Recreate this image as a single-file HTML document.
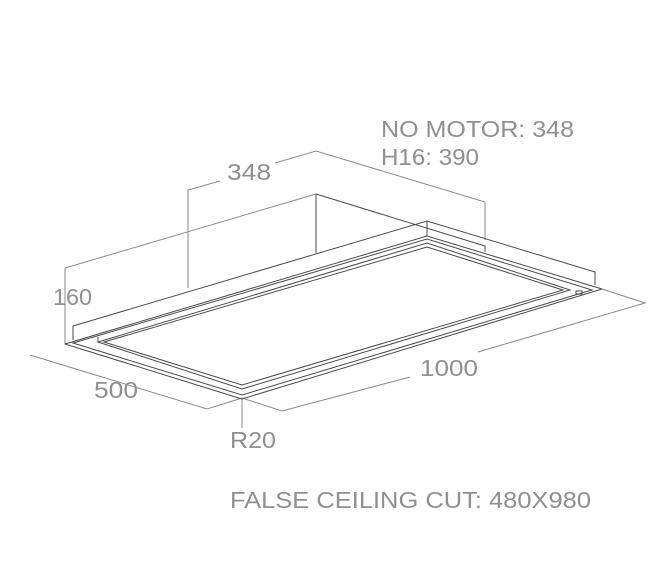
<!DOCTYPE html>
<html><head><meta charset="utf-8"><style>
html,body{margin:0;padding:0;background:#fff;}
svg{display:block;}
text{font-family:"Liberation Sans",sans-serif;fill:#909090;font-size:23px;}
</style></head><body>
<svg width="655" height="574" viewBox="0 0 655 574" xmlns="http://www.w3.org/2000/svg">
<g fill="none" stroke="#8a8a8a" stroke-width="1">
  <polyline points="188,288 188,190 220,181"/>
  <polyline points="275,163 316,151 485,202 485,240"/>
  <polyline points="316,194 65,268 65,344"/>
  <polyline points="30,355 207,409 242,398"/>
  <polyline points="242,398 282,411 410,377"/>
  <polyline points="478,352 645,303 602,289"/>
  <line x1="242" y1="399" x2="242" y2="428"/>
</g>
<g fill="none" stroke="#4a4a4a" stroke-width="1">
  <line x1="316" y1="194" x2="316" y2="253"/>
  <polyline points="316,194 485,246 485,252"/>
  <polyline points="73,340 73,326 427,221 595,272 595,285"/>
  <line x1="427" y1="221" x2="427" y2="236"/>
  <polygon points="65,344 242,399 602,289 427,236" stroke-linejoin="round"/>
  <polygon points="73,343 242,395 592,290 427,239"/>
  <polygon points="98,342 242,389 570,290 427,243"/>
  <polygon points="104,342 242,385 563,290 427,247"/>
  <line x1="98" y1="337" x2="98" y2="342"/>
  <rect x="576" y="291" width="6" height="3"/>
</g>
<text x="381" y="137" textLength="193" lengthAdjust="spacingAndGlyphs">NO MOTOR: 348</text>
<text x="381" y="165" textLength="98" lengthAdjust="spacingAndGlyphs">H16: 390</text>
<text x="227" y="180" textLength="44" lengthAdjust="spacingAndGlyphs">348</text>
<text x="53" y="305" textLength="39" lengthAdjust="spacingAndGlyphs">160</text>
<text x="94" y="398" textLength="44" lengthAdjust="spacingAndGlyphs">500</text>
<text x="420" y="376" textLength="58" lengthAdjust="spacingAndGlyphs">1000</text>
<text x="230" y="448" textLength="46" lengthAdjust="spacingAndGlyphs">R20</text>
<text x="230" y="508" textLength="361" lengthAdjust="spacingAndGlyphs">FALSE CEILING CUT: 480X980</text>
</svg>
</body></html>
